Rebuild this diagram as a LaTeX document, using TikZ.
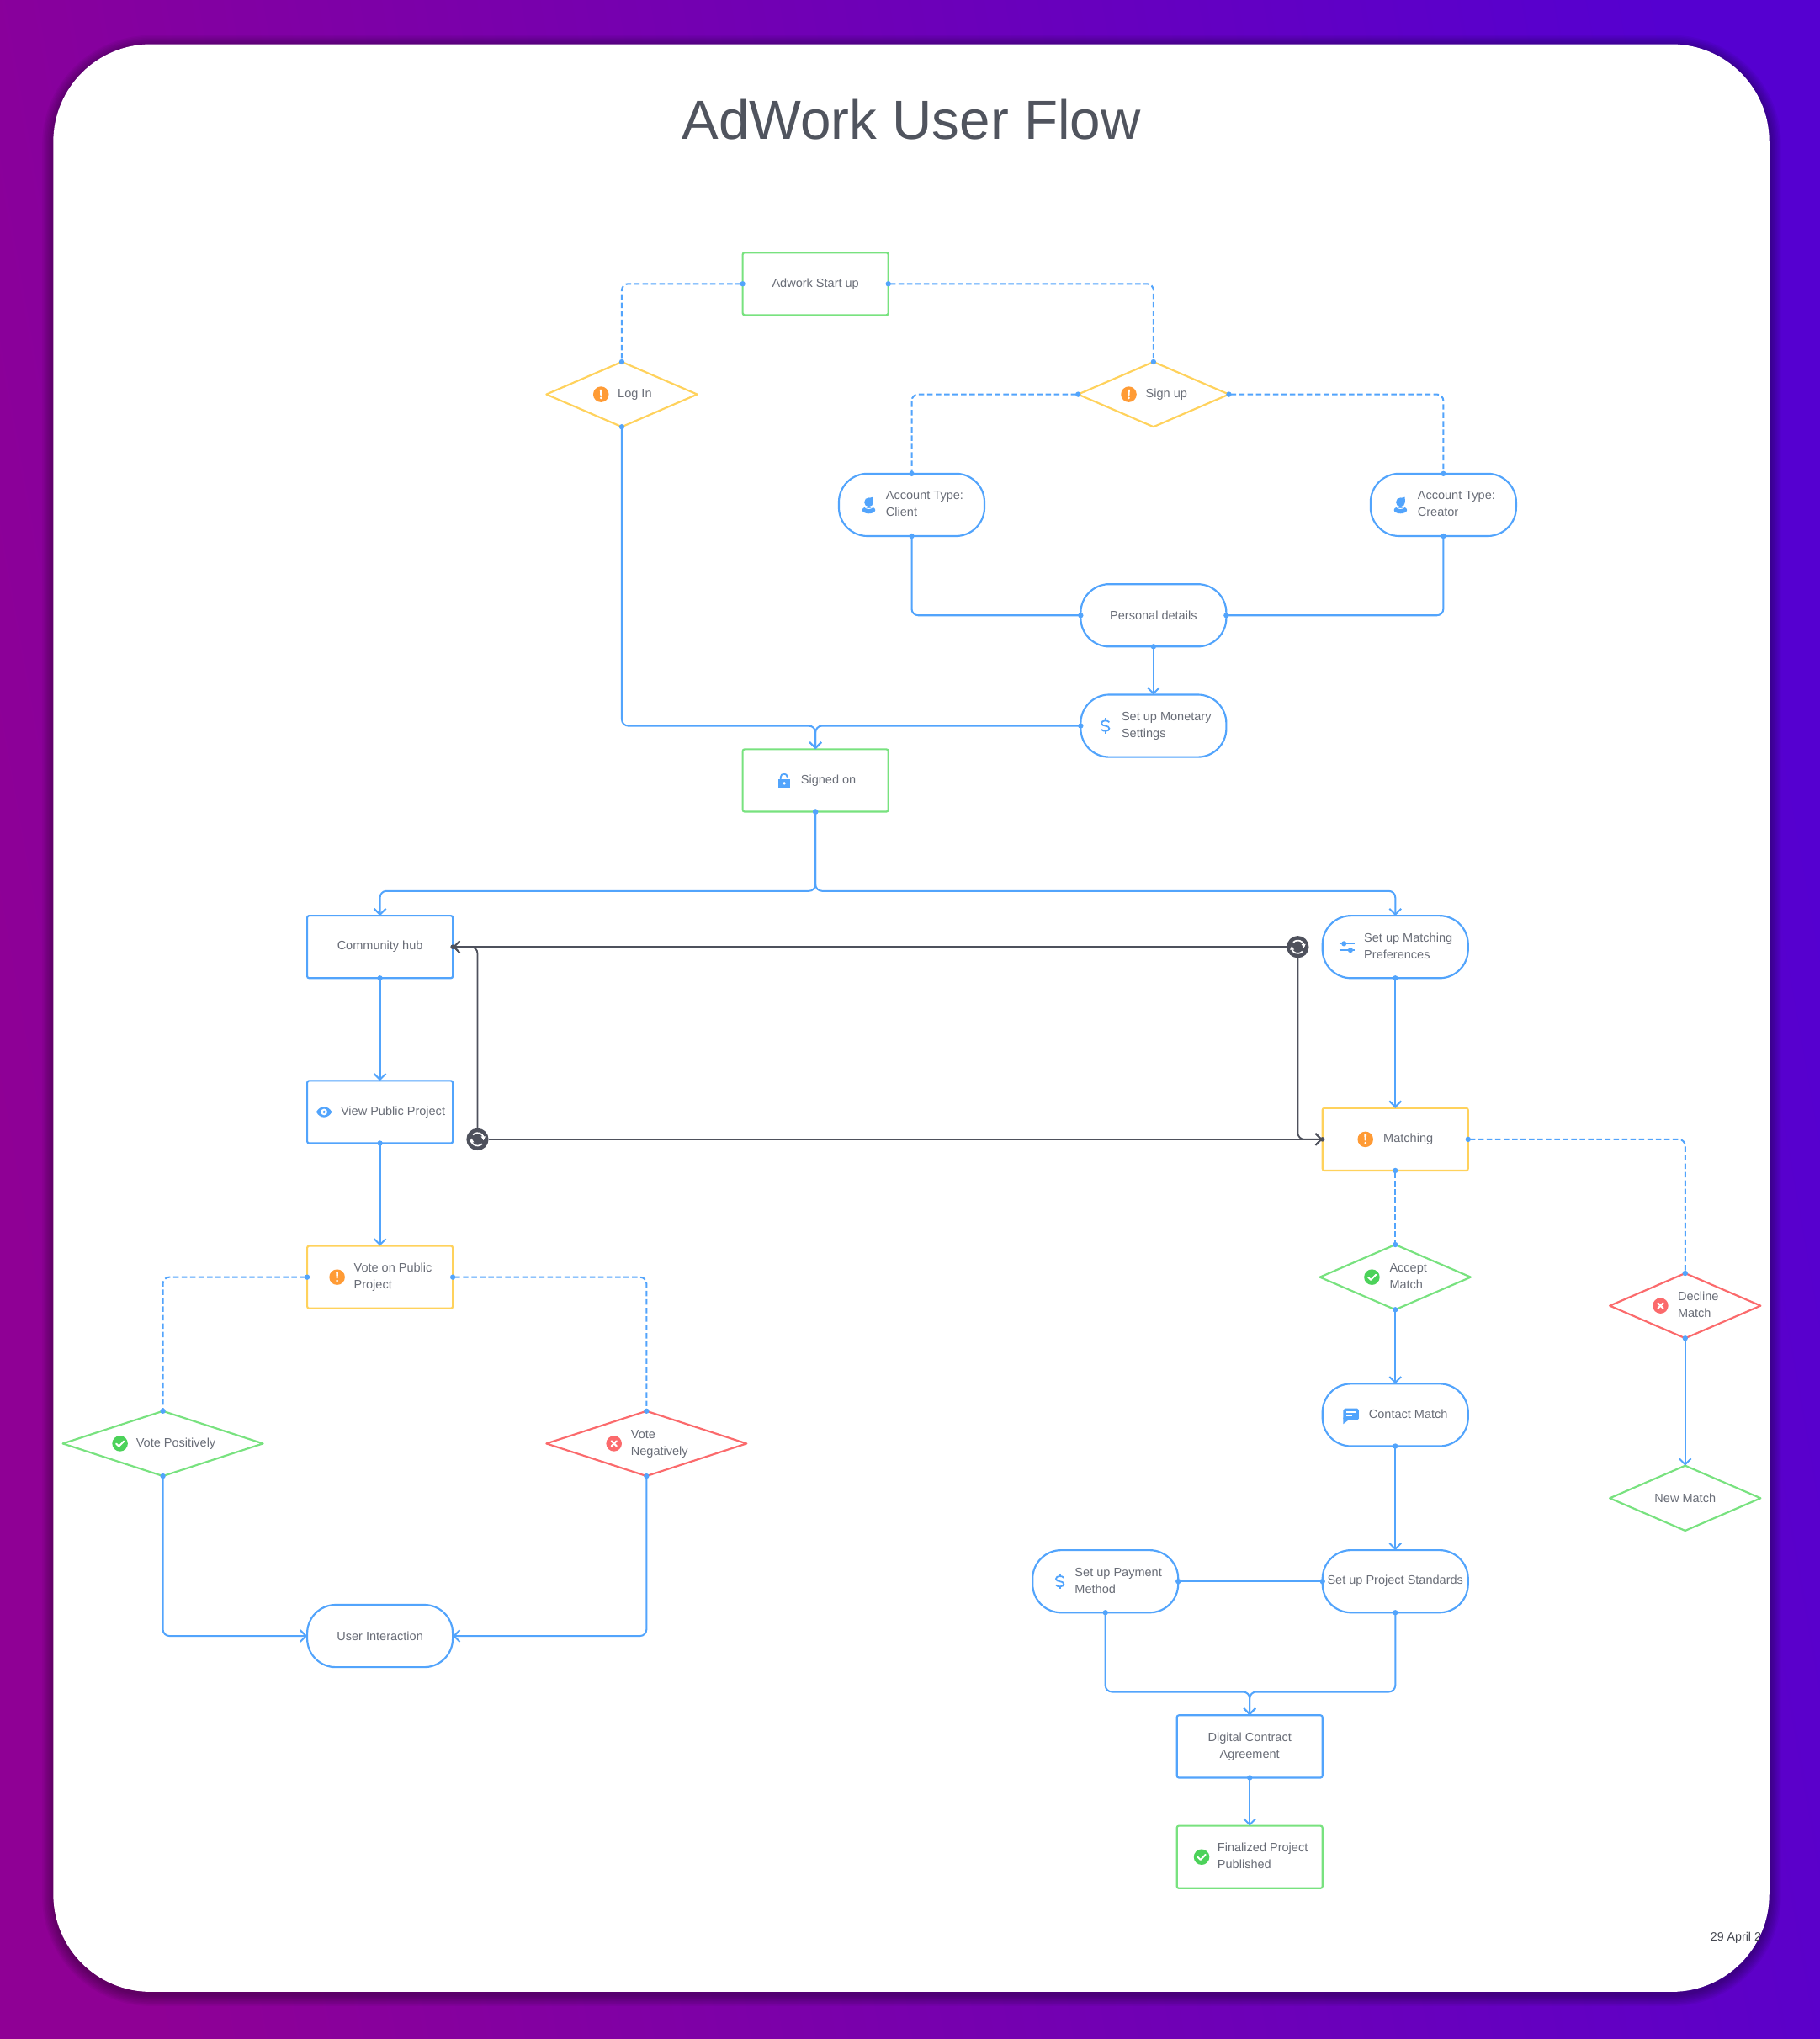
\documentclass[tikz,border=0pt]{standalone}
\usepackage{fontspec}
\setmainfont{Liberation Sans}
\usepackage{xcolor}
\usetikzlibrary{shapes.geometric,arrows.meta}
\definecolor{bgleft}{HTML}{8F0095}
\definecolor{bgright}{HTML}{5500D0}
\definecolor{flowblue}{HTML}{52A4FC}
\definecolor{flowgreen}{HTML}{78E27F}
\definecolor{flowyellow}{HTML}{FFD25C}
\definecolor{flowred}{HTML}{FB6A6C}
\definecolor{okgreen}{HTML}{4CD25A}
\definecolor{warnorange}{HTML}{FF9B35}
\definecolor{syncdark}{HTML}{4E515C}
\definecolor{labelgray}{HTML}{696D77}
\definecolor{titlegray}{HTML}{50545E}
\newcommand{\icontext}[1]{\hspace*{20pt}\begin{tabular}{@{}l@{}}#1\end{tabular}}
\tikzset{
  nodebase/.style={draw, line width=1.4pt, inner sep=0pt, outer sep=0pt, text=labelgray,
    align=center, font=\fontsize{9.4}{13}\selectfont},
  rectbox/.style={nodebase, rectangle, rounded corners=1.5pt, minimum width=112pt, minimum height=48pt},
  pillbox/.style={nodebase, rectangle, rounded corners=22pt, minimum width=112pt, minimum height=48pt, draw=flowblue},
  choicebox/.style={nodebase, diamond, line join=round, aspect=2.3, minimum width=116pt, minimum height=50pt},
  widechoice/.style={choicebox, aspect=3, minimum width=154pt},
  flowline/.style={draw=flowblue, line width=1.3pt, rounded corners=5pt, shorten <=-2pt,
    {Circle[length=4pt,width=4pt]}-{Circle[length=4pt,width=4pt]}, shorten >=-2pt},
  flowarrow/.style={draw=flowblue, line width=1.3pt, rounded corners=5pt, shorten <=-2pt,
    {Circle[length=4pt,width=4pt]}-{Straight Barb[length=4.5pt,width=9pt]}},
  flowdash/.style={flowline, dash pattern=on 4.2pt off 2.3pt},
  syncline/.style={draw=syncdark, line width=1.2pt, rounded corners=5pt, -{Straight Barb[length=4.5pt,width=9pt]}},
  syncnode/.style={circle, fill=syncdark, minimum size=17pt, inner sep=0pt, outer sep=0pt},
  warnicon/.pic={
    \fill[warnorange] (0,0) circle (6);
    \fill[white] (-0.9,-3.7) -- (0.9,-3.7) -- (0.6,1) -- (-0.6,1) -- cycle;
    \fill[white] (0,2.8) circle (0.95);
  },
  okicon/.pic={
    \fill[okgreen] (0,0) circle (6);
    \draw[white, line width=1.3pt, line cap=round, line join=round] (-2.9,0.1) -- (-0.8,2.1) -- (3,-1.8);
  },
  badicon/.pic={
    \fill[flowred] (0,0) circle (6);
    \draw[white, line width=1.4pt, line cap=round] (-2,-2) -- (2,2) (-2,2) -- (2,-2);
  },
  usericon/.pic={
    \fill[flowblue] (0,-2) circle (3.5);
    \fill[flowblue] (-2.5,-4.5) -- (3.4,-6) -- (3.5,-2) -- cycle;
    \fill[flowblue] (0,4) ellipse (5 and 2.7);
    \draw[white, line width=0.6pt] (-3.2,1.6) .. controls (-1.5,3.4) and (1.5,3.4) .. (3.2,1.6);
  },
  dollaricon/.pic={
    \draw[flowblue, line width=1.15pt] (3,-2.8) .. controls (2,-4.5) and (-3,-4.5) .. (-3,-2) .. controls (-3,0.8) and (3,-0.8) .. (3,2) .. controls (3,4.5) and (-2,4.5) .. (-3,2.8);
    \draw[flowblue, line width=1.15pt] (0,-6) -- (0,-4) (0,4) -- (0,6);
  },
  lockicon/.pic={
    \fill[flowblue] (-4.5,-1) rectangle (4.5,5.5);
    \draw[flowblue, line width=1.2pt] (-2.8,-1) -- (-2.8,-2.5) arc (180:360:2.6 and 2.6);
    \fill[white] (0,2.2) circle (1.2);
  },
  slidericon/.pic={
    \draw[flowblue, line width=1.1pt] (-6,-2.5) -- (-4.5,-2.5) (-0.5,-2.5) -- (6,-2.5) (-6,2.5) -- (0.5,2.5) (4.5,2.5) -- (6,2.5);
    \fill[flowblue] (-2.5,-2.5) circle (2) (2.5,2.5) circle (2);
  },
  eyeicon/.pic={
    \fill[flowblue] (-6,0) .. controls (-3,-5.4) and (3,-5.4) .. (6,0) .. controls (3,5.4) and (-3,5.4) .. (-6,0) -- cycle;
    \fill[white] (0,0) circle (2.5);
    \fill[flowblue] (0,0) circle (1.2);
  },
  chaticon/.pic={
    \fill[flowblue, rounded corners=1.2pt] (-6,-5) rectangle (6,4);
    \fill[flowblue] (-6,2) -- (-6,7) -- (-1.5,3.5) -- cycle;
    \draw[white, line width=1.1pt] (-3.6,-2.3) -- (3.6,-2.3) (-3.6,0.6) -- (1,0.6);
  },
  syncicon/.pic={
    \draw[white, line width=1.1pt] (-5,0.4) arc (175:45:5);
    \draw[white, line width=1.1pt] (5,-0.4) arc (-5:-135:5);
    \fill[white] (6.1,-2.2) -- (2.7,-2.2) -- (4.6,0.8) -- cycle;
    \fill[white] (-6.1,2.2) -- (-2.7,2.2) -- (-4.6,-0.8) -- cycle;
  }
}
\begin{document}
\begin{tikzpicture}[x=1pt,y=-1pt]
\useasboundingbox (0,0) rectangle (1400,1568.3);
\fill[left color=bgleft, right color=bgright, shading angle=100] (0,0) rectangle (1400,1568.3);
\foreach \s in {1,...,9} {
  \pgfmathsetmacro{\r}{75+\s}
  \fill[black, opacity=0.04, rounded corners=\r pt] (41.5-\s,34-\s+2) rectangle (1361+\s,1532+\s+2);
}
\fill[white, rounded corners=75pt] (41,34) rectangle (1361,1532);
\begin{scope}
\clip[rounded corners=75pt] (41,34) rectangle (1361,1532);
\node[anchor=west, inner sep=0pt, text=titlegray!85!black, font=\fontsize{9.2}{11}\selectfont] (datelabel) at (1315.6,1490.6) {29 April 2};
\end{scope}
\node[text=titlegray, font=\fontsize{42.4}{50}\selectfont] (title) at (701,92) {AdWork User Flow};

\begin{scope}[shift={(0.3,0.3)}]
\node[rectbox, draw=flowgreen] (startup) at (627,218) {Adwork Start up};
\node[choicebox, draw=flowyellow] (login) at (478,303) {\icontext{Log In}};
\node[choicebox, draw=flowyellow] (signup) at (887,303) {\icontext{Sign up}};
\node[pillbox] (client) at (701,388) {\icontext{Account Type:\\Client}};
\node[pillbox] (creator) at (1110,388) {\icontext{Account Type:\\Creator}};
\node[pillbox] (personal) at (887,473) {Personal details};
\node[pillbox] (monetary) at (887,558) {\icontext{Set up Monetary\\Settings}};
\node[rectbox, draw=flowgreen] (signedon) at (627,600) {\icontext{Signed on}};
\node[rectbox, draw=flowblue] (community) at (292,728) {Community hub};
\node[pillbox] (matchpref) at (1073,728) {\icontext{Set up Matching\\Preferences}};
\node[rectbox, draw=flowblue] (viewpublic) at (292,855) {\icontext{View Public Project}};
\node[rectbox, draw=flowyellow] (matching) at (1073,876) {\icontext{Matching}};
\node[rectbox, draw=flowyellow] (votepublic) at (292,982) {\icontext{Vote on Public\\Project}};
\node[widechoice, draw=flowgreen] (votepos) at (125,1110) {\icontext{Vote Positively}};
\node[widechoice, draw=flowred] (voteneg) at (497,1110) {\icontext{Vote\\Negatively}};
\node[pillbox] (userint) at (292,1258) {User Interaction};
\node[choicebox, draw=flowgreen] (accept) at (1073,982) {\icontext{Accept\\Match}};
\node[choicebox, draw=flowred] (decline) at (1296,1004) {\icontext{Decline\\Match}};
\node[choicebox, draw=flowgreen] (newmatch) at (1296,1152) {New Match};
\node[pillbox] (contact) at (1073,1088) {\icontext{Contact Match}};
\node[pillbox] (standards) at (1073,1216) {Set up Project Standards};
\node[pillbox] (payment) at (850,1216) {\icontext{Set up Payment\\Method}};
\node[rectbox, draw=flowblue] (digital) at (961,1343) {Digital Contract\\Agreement};
\node[rectbox, draw=flowgreen] (finalized) at (961,1428) {\icontext{Finalized Project\\Published}};
\node[syncnode] (syncright) at (998,728) {};
\node[syncnode] (syncleft) at (367,876) {};

\coordinate (mergesign) at (627,558);
\coordinate (splitsign) at (627,685);
\coordinate (mergepay) at (961,1301);

\draw[flowdash] (startup.west) -| (login.north);
\draw[flowdash] (startup.east) -| (signup.north);
\draw[flowdash] (signup.west) -| (client.north);
\draw[flowdash] (signup.east) -| (creator.north);
\draw[flowline] (client.south) |- (personal.west);
\draw[flowline] (creator.south) |- (personal.east);
\draw[flowarrow] (personal.south) -- (monetary.north);
\draw[flowarrow] (login.south) |- (mergesign) -- (signedon.north);
\draw[flowarrow] (monetary.west) -- (mergesign) -- (signedon.north);
\draw[flowarrow] (signedon.south) -- (splitsign) -| (community.north);
\draw[flowarrow] (signedon.south) -- (splitsign) -| (matchpref.north);
\draw[flowarrow] (community.south) -- (viewpublic.north);
\draw[flowarrow] (viewpublic.south) -- (votepublic.north);
\draw[flowarrow] (matchpref.south) -- (matching.north);
\draw[flowdash] (votepublic.west) -| (votepos.north);
\draw[flowdash] (votepublic.east) -| (voteneg.north);
\draw[flowarrow] (votepos.south) |- (userint.west);
\draw[flowarrow] (voteneg.south) |- (userint.east);
\draw[flowdash] (matching.south) -- (accept.north);
\draw[flowdash] (matching.east) -| (decline.north);
\draw[flowarrow] (accept.south) -- (contact.north);
\draw[flowarrow] (decline.south) -- (newmatch.north);
\draw[flowarrow] (contact.south) -- (standards.north);
\draw[flowline] (payment.east) -- (standards.west);
\draw[flowarrow] (payment.south) |- (mergepay) -- (digital.north);
\draw[flowarrow] (standards.south) |- (mergepay) -- (digital.north);
\draw[flowarrow] (digital.south) -- (finalized.north);

\draw[syncline] (syncright.west) -- (community.east);
\draw[syncline] (syncleft.north) |- (community.east);
\draw[syncline] (syncleft.east) -- (matching.west);
\draw[syncline] (syncright.south) |- (matching.west);
\fill[syncdark] (community.east) circle (1.8);
\fill[syncdark] (matching.west) circle (1.8);

\pic at (syncright.center) {syncicon};
\pic at (syncleft.center) {syncicon};
\pic at (462,303) {warnicon};
\pic at (868,303) {warnicon};
\pic at (1050,876) {warnicon};
\pic at (259,982) {warnicon};
\pic at (92,1110) {okicon};
\pic at (1055,982) {okicon};
\pic at (924,1428) {okicon};
\pic at (472,1110) {badicon};
\pic at (1277,1004) {badicon};
\pic at (668,388) {usericon};
\pic at (1077,388) {usericon};
\pic at (850,558) {dollaricon};
\pic at (815,1216) {dollaricon};
\pic at (603,600) {lockicon};
\pic at (1036,728) {slidericon};
\pic at (249,855) {eyeicon};
\pic at (1039,1088) {chaticon};
\end{scope}
\end{tikzpicture}
\end{document}
